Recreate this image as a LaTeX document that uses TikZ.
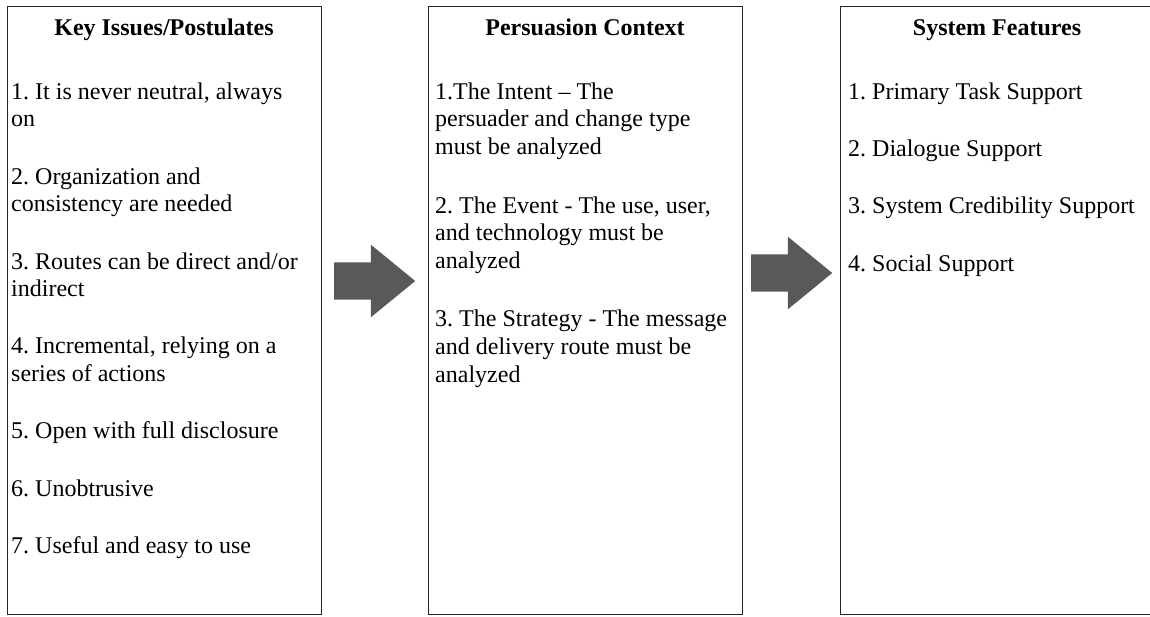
\documentclass[tikz,border=0pt]{standalone}
\usepackage{fontspec}
\setmainfont{Liberation Serif}
\usepackage{xcolor}
\usepackage{tikz}
\usetikzlibrary{shapes.arrows,positioning}

\definecolor{arrowgray}{HTML}{595959}
\definecolor{boxline}{HTML}{262626}
\newcommand{\panelfont}{\fontsize{24}{27.6}\selectfont\frenchspacing}

\begin{document}
\begin{tikzpicture}[x=1pt, y=-1pt,
    panel/.style={draw=boxline, line width=1.4pt, minimum width=314pt, minimum height=608pt, inner sep=0pt, anchor=north west},
    paneltitle/.style={font=\panelfont\bfseries, anchor=base, inner sep=0pt},
    panellist/.style={font=\panelfont, align=left, anchor=north west, inner sep=0pt},
    bigarrow/.style={single arrow, fill=arrowgray, draw=none, inner xsep=0pt, inner ysep=18.5pt, anchor=tail,
      minimum height=81pt, single arrow head extend=17.5pt,
      single arrow tip angle=78.6}]
  \clip (0,0) rectangle (1150,616);

  % Key issues panel
  \node[panel] (keybox) at (7,6) {};
  \node[paneltitle] (keytitle) at (164,35) {Key Issues/Postulates};
  \node[panellist] (keylist) at (11,79.7) {\strut 1. It is never neutral, always\\
    on\\[29.7pt]
    2. Organization and\\
    consistency are needed\\[29.7pt]
    3. Routes can be direct and/or\\
    indirect\\[29.7pt]
    4. Incremental, relying on a\\
    series of actions\\[29.7pt]
    5. Open with full disclosure\\[29.7pt]
    6. Unobtrusive\\[29.7pt]
    7. Useful and easy to use};

  % Persuasion context panel
  \node[panel] (ctxbox) at (428,6) {};
  \node[paneltitle] (ctxtitle) at (585,35) {Persuasion Context};
  \node[panellist] (ctxlist) at (435,79.7) {\strut 1.The Intent -- The\\
    persuader and change type\\
    must be analyzed\\[31pt]
    2. The Event - The use, user,\\
    and technology must be\\
    analyzed\\[31pt]
    3. The Strategy - The message\\
    and delivery route must be\\
    analyzed};

  % System features panel
  \node[panel] (featbox) at (840,6) {};
  \node[paneltitle] (feattitle) at (997,35) {System Features};
  \node[panellist] (featlist) at (848,79.7) {\strut 1. Primary Task Support\\[29.7pt]
    2. Dialogue Support\\[29.7pt]
    3. System Credibility Support\\[29.7pt]
    4. Social Support};

  % Block arrows
  \node[bigarrow] (arrA) at (334,281) {};
  \node[bigarrow] (arrB) at (751,273) {};
\end{tikzpicture}
\end{document}
